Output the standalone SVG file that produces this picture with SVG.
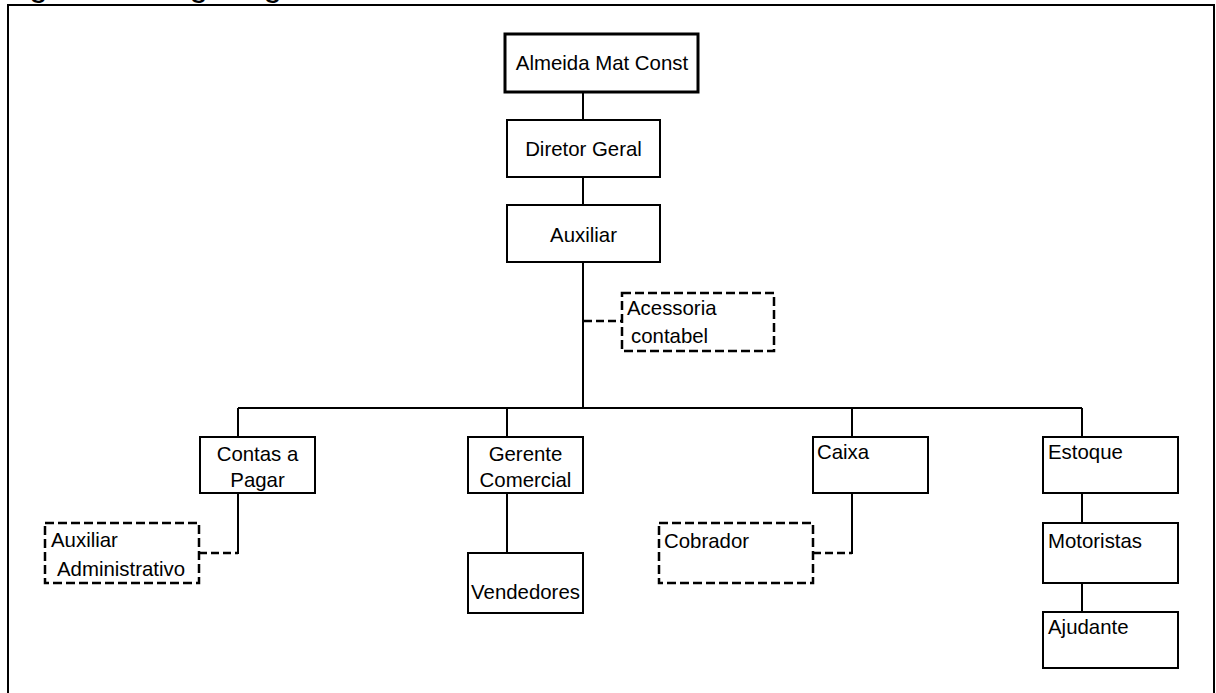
<svg xmlns="http://www.w3.org/2000/svg" width="1216" height="693" viewBox="0 0 1216 693">
  <style>
    .box { fill: #ffffff; stroke: #000000; stroke-width: 2; }
    .top { fill: #ffffff; stroke: #000000; stroke-width: 3; }
    .dash { fill: #ffffff; stroke: #000000; stroke-width: 2.5; stroke-dasharray: 9 4; }
    .line { fill: none; stroke: #000000; stroke-width: 2; }
    .dline { fill: none; stroke: #000000; stroke-width: 2.5; stroke-dasharray: 8 4; }
    text { font-family: "Liberation Sans", Arial, sans-serif; font-size: 20.4px; fill: #000000; }
    .c { text-anchor: middle; }
    .title { font-size: 33.2px; }
  </style>

  <rect width="1216" height="693" fill="#ffffff"/>

  <!-- caption above the frame -->
  <text class="title" x="1.5" y="-4">Figura 1 - Organograma</text>

  <!-- outer frame -->
  <path class="line" d="M8,700 V5 H1214 V700"/>

  <!-- connectors -->
  <g id="connectors">
    <path class="line" d="M583,92 V120 M583,177 V205 M583,262 V408"/>
    <path class="line" d="M238,408 H1082"/>
    <path class="line" d="M238,408 V437 M507,408 V437 M852,408 V437 M1082,408 V437"/>
    <path class="line" d="M238,493 V554 M507,493 V553 M852,493 V554"/>
    <path class="line" d="M1082,493 V523 M1082,583 V612"/>
    <path class="dline" d="M584,321 H622"/>
    <path class="dline" d="M199,553 H238"/>
    <path class="dline" d="M813,553 H852"/>
  </g>

  <g id="almeida">
    <rect class="top" x="505" y="34" width="193" height="58"/>
    <text class="c" x="602" y="70">Almeida Mat Const</text>
  </g>

  <g id="diretor">
    <rect class="box" x="507" y="120" width="153" height="57"/>
    <text class="c" x="583.5" y="156">Diretor Geral</text>
  </g>

  <g id="auxiliar">
    <rect class="box" x="507" y="205" width="153" height="57"/>
    <text class="c" x="583.5" y="242">Auxiliar</text>
  </g>

  <g id="acessoria">
    <rect class="dash" x="622" y="293" width="152" height="58"/>
    <text x="627" y="315">Acessoria</text>
    <text x="631" y="343">contabel</text>
  </g>

  <g id="contas">
    <rect class="box" x="200" y="437" width="115" height="56"/>
    <text class="c" x="257.5" y="461">Contas a</text>
    <text class="c" x="257.5" y="487">Pagar</text>
  </g>

  <g id="aux-admin">
    <rect class="dash" x="45" y="523" width="154" height="60"/>
    <text x="51" y="547">Auxiliar</text>
    <text x="57" y="576">Administrativo</text>
  </g>

  <g id="gerente">
    <rect class="box" x="468" y="437" width="115" height="56"/>
    <text class="c" x="525.5" y="461">Gerente</text>
    <text class="c" x="525.5" y="487">Comercial</text>
  </g>

  <g id="vendedores">
    <rect class="box" x="468" y="553" width="115" height="60"/>
    <text class="c" x="525.5" y="599">Vendedores</text>
  </g>

  <g id="caixa">
    <rect class="box" x="813" y="437" width="115" height="56"/>
    <text x="817" y="459">Caixa</text>
  </g>

  <g id="cobrador">
    <rect class="dash" x="659" y="523" width="154" height="60"/>
    <text x="664" y="548">Cobrador</text>
  </g>

  <g id="estoque">
    <rect class="box" x="1043" y="437" width="135" height="56"/>
    <text x="1048" y="459">Estoque</text>
  </g>

  <g id="motoristas">
    <rect class="box" x="1043" y="523" width="135" height="60"/>
    <text x="1048" y="548">Motoristas</text>
  </g>

  <g id="ajudante">
    <rect class="box" x="1043" y="612" width="135" height="56"/>
    <text x="1048" y="634">Ajudante</text>
  </g>
</svg>
